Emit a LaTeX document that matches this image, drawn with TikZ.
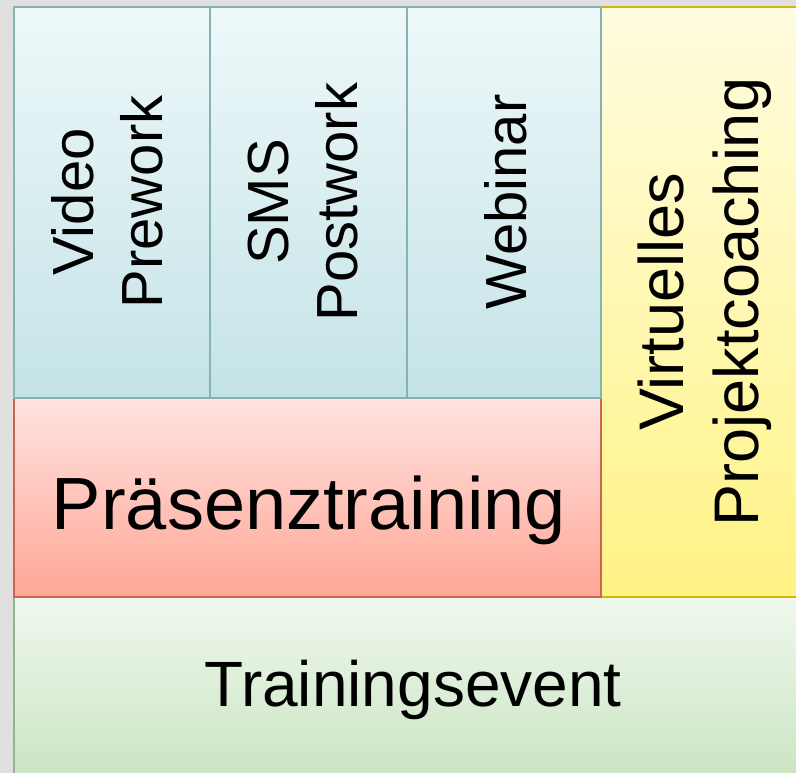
\documentclass[tikz,border=0pt]{standalone}
\usepackage{fontspec}
\setmainfont{Liberation Sans}
\definecolor{bgc}{HTML}{E0E0E0}
\definecolor{bluetop}{HTML}{EEF8F9}
\definecolor{bluebot}{HTML}{C4E3E7}
\definecolor{blueline}{HTML}{86B2B2}
\definecolor{redtop}{HTML}{FFE4E1}
\definecolor{redbot}{HTML}{FFA696}
\definecolor{redline}{HTML}{CC6450}
\definecolor{yeltop}{HTML}{FFFCE0}
\definecolor{yelbot}{HTML}{FFF385}
\definecolor{yelline}{HTML}{D2B60A}
\definecolor{grntop}{HTML}{F0F8EE}
\definecolor{grnbot}{HTML}{C6E3BE}
\definecolor{grnline}{HTML}{8CB88C}
\tikzset{
  boxbase/.style={rectangle, inner sep=0pt, outer sep=0pt, line width=2pt, anchor=north west},
  bluebox/.style={boxbase, draw=blueline, top color=bluetop, bottom color=bluebot},
  redbox/.style={boxbase, draw=redline, top color=redtop, bottom color=redbot},
  yelbox/.style={boxbase, draw=yelline, top color=yeltop, bottom color=yelbot},
  grnbox/.style={boxbase, draw=grnline, top color=grntop, bottom color=grnbot},
  vtext/.style={rotate=90, align=center, font=\fontsize{58}{69}\selectfont, inner sep=0pt},
}
\begin{document}
\begin{tikzpicture}[x=1pt, y=-1pt]
\useasboundingbox (0,0) rectangle (796,773);
\fill[bgc] (0,0) rectangle (796,773);
\begin{scope}
\clip (0,0) rectangle (796,773);
% green bottom
\node[grnbox, minimum width=800pt, minimum height=200pt] (grn) at (14,597) {};
% yellow
\node[yelbox, minimum width=210pt, minimum height=590pt] (yel) at (601,7) {};
% red
\node[redbox, minimum width=587pt, minimum height=199pt] (red) at (14,398) {};
% blue
\node[bluebox, minimum width=196pt, minimum height=391pt] (b1) at (14,7) {};
\node[bluebox, minimum width=197pt, minimum height=391pt] (b2) at (210,7) {};
\node[bluebox, minimum width=194pt, minimum height=391pt] (b3) at (407,7) {};
\end{scope}
% texts
\node[vtext] (t1) at (107,202) {Video\\Prework};
\node[vtext] (t2) at (303,202) {SMS\\Postwork};
\node[vtext] (t3) at (506,202) {Webinar};
\node[vtext, font=\fontsize{63}{75}\selectfont] (t4) at (705,302) {Virtuelles\\Projektcoaching};
\node[font=\fontsize{74}{88}\selectfont, inner sep=0pt] (t5) at (309,510) {Präsenztraining};
\node[font=\fontsize{64}{76}\selectfont, inner sep=0pt] (t6) at (413,690) {Trainingsevent};
\end{tikzpicture}
\end{document}
